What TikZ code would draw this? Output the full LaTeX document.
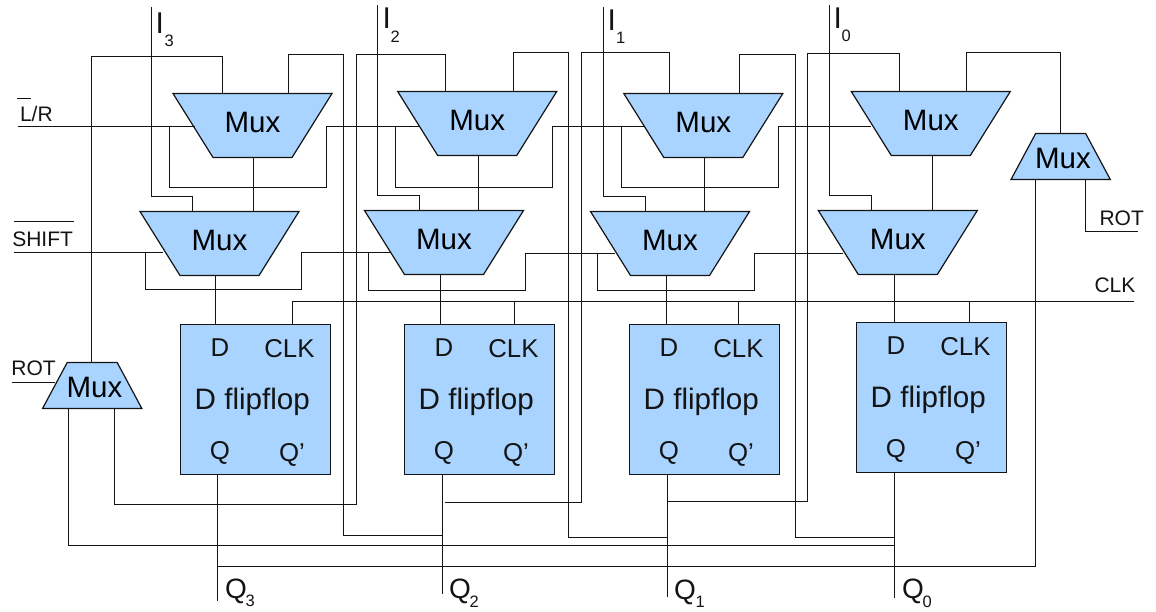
\documentclass[tikz,border=0pt]{standalone}
\usepackage{fontspec}
\setmainfont{Liberation Sans}
\usetikzlibrary{shapes.geometric}
\definecolor{muxfill}{HTML}{A8D4FF}
\definecolor{ink}{HTML}{141414}
\newcommand{\fsz}[1]{\fontsize{#1}{#1}\selectfont}
% a zero-width strut of the shape's height sets the slant; the word overhangs freely
\newcommand{\muxdowntxt}{\rule{0pt}{64pt}\makebox[0pt]{\raisebox{25pt}[0pt][0pt]{\fsz{29.5}Mux}}}
\newcommand{\muxuptxt}{\rule{0pt}{46pt}\makebox[0pt]{\hspace*{4.5pt}\raisebox{10.8pt}[0pt][0pt]{\fsz{29.5}Mux}}}
\newcommand{\ffblock}[3]{%
  \node[ffbox] (ff#1) at (#2+75,#3+75) {};
  \node[pinsmall] (ff#1d) at (#2+30,#3+31.5) {D};
  \node[pinsmall] (ff#1c) at (#2+83.8,#3+33) {CLK};
  \node[pinlarge] (ff#1t) at (#2+14.2,#3+85) {D flipflop};
  \node[pinsmall] (ff#1q) at (#2+29.3,#3+134.6) {Q};
  \node[pinsmall] (ff#1n) at (#2+98.5,#3+136.6) {Q\symbol{39}};
}
\tikzset{
  wire/.style={draw=ink,line width=1.2pt,line join=miter},
  muxshape/.style={trapezium,draw=ink,fill=muxfill,line width=1.2pt,inner sep=0pt,outer sep=0pt,
    trapezium stretches body,text=black},
  muxdown/.style={muxshape,shape border rotate=180,trapezium left angle=58,trapezium right angle=58,
    minimum height=64pt,minimum width=159pt},
  muxup/.style={muxshape,trapezium left angle=61.8,trapezium right angle=61.8,
    minimum height=46pt,minimum width=99.3pt},
  ffbox/.style={rectangle,draw=ink,fill=muxfill,line width=1.2pt,minimum width=150pt,minimum height=150pt,
    inner sep=0pt,outer sep=0pt},
  txt/.style={inner sep=0pt,outer sep=0pt,anchor=base west,text=ink},
  pinsmall/.style={txt,font=\fsz{25.8}},
  pinlarge/.style={txt,font=\fsz{29.6}},
  side/.style={txt,font=\fsz{21}},
  bignum/.style={txt,font=\fsz{30}},
  qnum/.style={txt,font=\fsz{28}},
  subnum/.style={txt,font=\fsz{16.5}},
}
\begin{document}
\begin{tikzpicture}[x=1pt,y=-1pt]
\useasboundingbox (0,0) rectangle (1156,611);
% multiplexers
\node[muxdown] (mt3) at (252.5,125.5) {\muxdowntxt};
\node[muxdown] (mb3) at (219.5,243.5) {\muxdowntxt};
\node[muxdown] (mt2) at (477.2,123.5) {\muxdowntxt};
\node[muxdown] (mb2) at (444,242.5) {\muxdowntxt};
\node[muxdown] (mt1) at (703.3,125.5) {\muxdowntxt};
\node[muxdown] (mb1) at (670,243.5) {\muxdowntxt};
\node[muxdown] (mt0) at (930.8,123.5) {\muxdowntxt};
\node[muxdown] (mb0) at (897.8,242.5) {\muxdowntxt};
\node[muxup] (mr) at (1060.65,156.5) {\muxuptxt};
\node[muxup] (ml) at (92.2,385.5) {\muxuptxt};
% flip-flops
\ffblock{3}{180.5}{324.5}
\ffblock{2}{404.5}{324.5}
\ffblock{1}{629.5}{324.5}
\ffblock{0}{856.5}{322.5}
% free ends
\coordinate (in3) at (151.5,7);
\coordinate (in2) at (377.5,5);
\coordinate (in1) at (603.5,7);
\coordinate (in0) at (829.5,5);
\coordinate (q3) at (217.5,600.7);
\coordinate (q2) at (442.5,594.3);
\coordinate (q1) at (667.5,597.3);
\coordinate (q0) at (894.5,598.3);
\coordinate (lr) at (17.7,126.5);
\coordinate (sh) at (14,252.5);
\coordinate (clkend) at (1134.3,301.5);
\coordinate (rotr) at (1137.7,231.5);
% data inputs
\draw[wire] (in3) |- (192.5,196.5) -- (192.5,0 |- mb3.north);
\draw[wire] (in2) |- (419.5,195.5) -- (419.5,0 |- mb2.north);
\draw[wire] (in1) |- (645.5,196.5) -- (645.5,0 |- mb1.north);
\draw[wire] (in0) |- (871.5,195.5) -- (871.5,0 |- mb0.north);
% mux to mux, mux to flip-flop
\draw[wire] (253.5,0 |- mt3.south) -- (253.5,0 |- mb3.north);
\draw[wire] (478.5,0 |- mt2.south) -- (478.5,0 |- mb2.north);
\draw[wire] (704.5,0 |- mt1.south) -- (704.5,0 |- mb1.north);
\draw[wire] (932.5,0 |- mt0.south) -- (932.5,0 |- mb0.north);
\draw[wire] (215.5,0 |- mb3.south) -- (215.5,0 |- ff3.north);
\draw[wire] (440.5,0 |- mb2.south) -- (440.5,0 |- ff2.north);
\draw[wire] (666.5,0 |- mb1.south) -- (666.5,0 |- ff1.north);
\draw[wire] (894.5,0 |- mb0.south) -- (894.5,0 |- ff0.north);
% outputs
\draw[wire] (q3 |- ff3.south) -- (q3);
\draw[wire] (q2 |- ff2.south) -- (q2);
\draw[wire] (q1 |- ff1.south) -- (q1);
\draw[wire] (q0 |- ff0.south) -- (q0);
% shift paths
\draw[wire] (91.5,0 |- ml.north) |- (222.5,56.5) -- (222.5,0 |- mt3.north);
\draw[wire] (288.5,0 |- mt3.north) |- (343.5,54.5) -- (343.5,535.5) -- (q2 |- 0,535.5);
\draw[wire] (445.5,0 |- mt2.north) |- (356.5,54.5) -- (356.5,504.5) -- (114.5,504.5) -- (114.5,0 |- ml.south);
\draw[wire] (444.5,502.5) -| (581.5,52.5) -- (669.5,52.5) -- (669.5,0 |- mt1.north);
\draw[wire] (513.5,0 |- mt2.north) |- (568.5,52.5) -- (568.5,537.5) -- (q1 |- 0,537.5);
\draw[wire] (q1 |- 0,501.5) -| (807.5,53.5) -- (899.5,53.5) -- (899.5,0 |- mt0.north);
\draw[wire] (739.5,0 |- mt1.north) |- (795.5,54.5) -- (795.5,537.5) -- (q0 |- 0,537.5);
\draw[wire] (966.5,0 |- mt0.north) |- (1060.5,52.5) -- (1060.5,0 |- mr.north);
\draw[wire] (1035.5,0 |- mr.south) -- (1035.5,566.5) -- (q3 |- 0,566.5);
\draw[wire] (1085.5,0 |- mr.south) |- (rotr);
\draw[wire] (68.5,0 |- ml.south) |- (q0 |- 0,545.5);
% L/R control
\draw[wire] (lr) -- (195,126.5);
\draw[wire] (169.5,126.5) |- (326.5,187.5) -- (326.5,126.5) -- (419,126.5);
\draw[wire] (395.5,126.5) |- (552.5,187.5) -- (552.5,126.5) -- (644,126.5);
\draw[wire] (621.5,126.5) |- (778.5,187.5) -- (778.5,126.5) -- (870.7,126.5);
% SHIFT control
\draw[wire] (sh) -- (163.3,252.5);
\draw[wire] (145.5,252.5) |- (301.5,289.5) -- (301.5,252.5) -- (390.7,252.5);
\draw[wire] (368.5,252.5) |- (525.5,290.5) -- (525.5,253.5) -- (615,253.5);
\draw[wire] (597.5,253.5) |- (754.5,290.5) -- (754.5,253.5) -- (843.3,253.5);
% clock
\draw[wire] (292.5,0 |- ff3.north) |- (clkend);
\draw[wire] (514.5,0 |- ff2.north) -- (514.5,301.5);
\draw[wire] (738.5,0 |- ff1.north) -- (738.5,301.5);
\draw[wire] (969.5,0 |- ff0.north) -- (969.5,301.5);
% side texts
\node[side] (tlr) at (20,121) {L/R};
\node[side] (tsh) at (12.3,246) {SHIFT};
\node[side] (trl) at (11.5,375.7) {ROT};
\node[side] (trr) at (1099.5,225) {ROT};
\node[side] (tck) at (1094.5,292.3) {CLK};
\draw[wire] (17,98.5) -- (31,98.5);
\draw[wire] (14,221.5) -- (74,221.5);
\draw[wire] (12,382.5) -- (55,382.5);
% input and output names
\node[bignum] (i3) at (155.5,33) {I};
\node[subnum] (i3s) at (164.5,46) {3};
\node[bignum] (i2) at (382.5,28.7) {I};
\node[subnum] (i2s) at (390.5,42) {2};
\node[bignum] (i1) at (607.5,30) {I};
\node[subnum] (i1s) at (616,43) {1};
\node[bignum] (i0) at (833.5,28) {I};
\node[subnum] (i0s) at (841.5,41) {0};
\node[qnum] (o3) at (225,598) {Q};
\node[subnum] (o3s) at (245.5,606.5) {3};
\node[qnum] (o2) at (449,598) {Q};
\node[subnum] (o2s) at (469.5,607) {2};
\node[qnum] (o1) at (674,599) {Q};
\node[subnum] (o1s) at (695.5,607.5) {1};
\node[qnum] (o0) at (902,598) {Q};
\node[subnum] (o0s) at (922.5,607.5) {0};
\end{tikzpicture}
\end{document}
